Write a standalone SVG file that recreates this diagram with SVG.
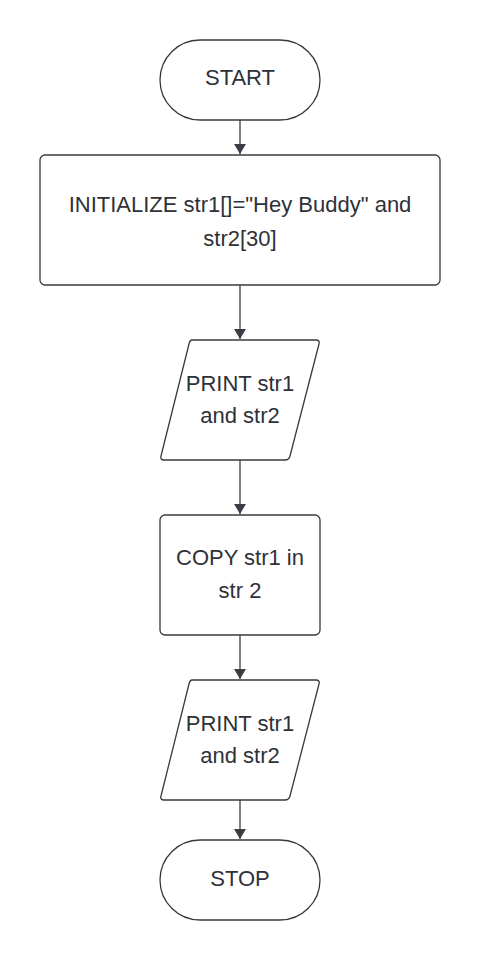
<svg xmlns="http://www.w3.org/2000/svg" width="480" height="960" viewBox="0 0 480 960">
<style>
.s{fill:#fff;stroke:#3a3a3a;stroke-width:1.3}
.t{font-family:"Liberation Sans",Arial,sans-serif;font-size:22px;fill:#2e3138;text-anchor:middle}
.c{stroke:#3a3d44;stroke-width:1.3;fill:none}
</style>
<defs>
<marker id="a" markerWidth="10" markerHeight="12" refX="10" refY="6" orient="auto" markerUnits="userSpaceOnUse" viewBox="0 0 10 12">
<path d="M0,0 L10,6 L0,12 z" fill="#3a3d44"/>
</marker>
</defs>
<rect width="480" height="960" fill="#fff"/>
<g id="connectors">
<line class="c" x1="240" y1="120" x2="240" y2="154" marker-end="url(#a)"/>
<line class="c" x1="240" y1="285" x2="240" y2="339" marker-end="url(#a)"/>
<line class="c" x1="240" y1="460" x2="240" y2="514" marker-end="url(#a)"/>
<line class="c" x1="240" y1="635" x2="240" y2="679" marker-end="url(#a)"/>
<line class="c" x1="240" y1="800" x2="240" y2="839" marker-end="url(#a)"/>
</g>
<g id="start">
<rect class="s" x="160" y="40" width="160" height="80" rx="40"/>
<text class="t" x="240" y="85">START</text>
</g>
<g id="init">
<rect class="s" x="40" y="155" width="400" height="130" rx="5"/>
<text class="t" x="240" y="212">INITIALIZE str1[]="Hey Buddy" and</text>
<text class="t" x="240" y="246">str2[30]</text>
</g>
<g id="print1">
<path class="s" d="M192,340 L316,340 Q320,340 319,344 L290,456 Q289,460 285,460 L164,460 Q160,460 161,456 L189,344 Q190,340 192,340 z"/>
<text class="t" x="240" y="391">PRINT str1</text>
<text class="t" x="240" y="423">and str2</text>
</g>
<g id="copy">
<rect class="s" x="160" y="515" width="160" height="120" rx="5"/>
<text class="t" x="240" y="565">COPY str1 in</text>
<text class="t" x="240" y="598">str 2</text>
</g>
<g id="print2">
<path class="s" d="M192,680 L316,680 Q320,680 319,684 L290,796 Q289,800 285,800 L164,800 Q160,800 161,796 L189,684 Q190,680 192,680 z"/>
<text class="t" x="240" y="731">PRINT str1</text>
<text class="t" x="240" y="763">and str2</text>
</g>
<g id="stop">
<rect class="s" x="160" y="840" width="160" height="80" rx="40"/>
<text class="t" x="240" y="886">STOP</text>
</g>
</svg>
